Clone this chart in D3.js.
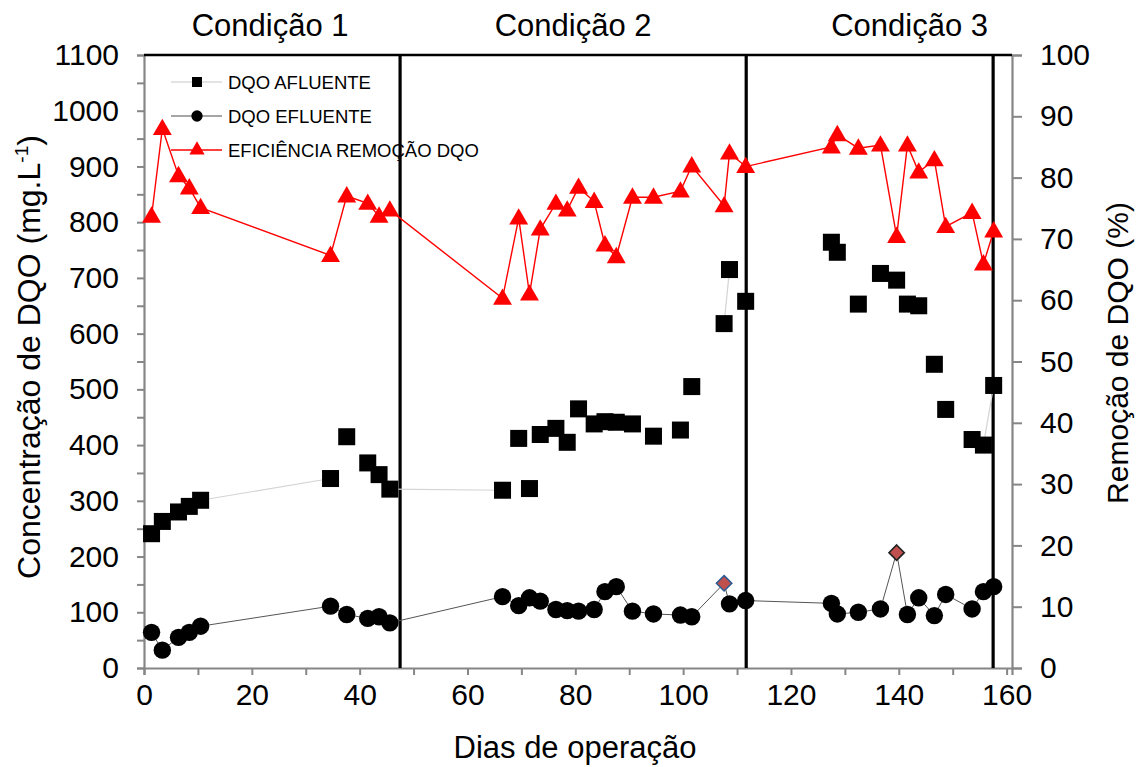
<!DOCTYPE html>
<html>
<head>
<meta charset="utf-8">
<script src="https://cdn.jsdelivr.net/npm/d3@7"></script>
<style>
  body { margin: 0; background: #fff; }
  svg text { font-family: "Liberation Sans", Arial, sans-serif; fill: #000; }
</style>
</head>
<body>
<svg id="chart" width="1139" height="767"></svg>
<script>
// dias de operação (eixo x)
const dias = [1.4, 3.4, 6.4, 8.4, 10.5, 34.6, 37.6, 41.5, 43.6, 45.6,
  66.5, 69.5, 71.5, 73.5, 76.4, 78.5, 80.6, 83.5, 85.5, 87.6, 90.6, 94.5, 99.5, 101.6, 107.6, 108.6, 111.6,
  127.5, 128.6, 132.5, 136.6, 139.6, 141.6, 143.7, 146.6, 148.7, 153.6, 155.7, 157.6];

// DQO afluente (mg/L)
const dqoAfluente = [241, 263, 280, 290, 301, 340, 415, 368, 347, 321,
  319, 412, 322, 419, 430, 405, 465, 438, 442, 441, 438, 416, 427, 505, 618, 715, 658,
  764, 746, 653, 708, 696, 653, 650, 545, 464, 410, 400, 507];

// DQO efluente (mg/L)
const dqoEfluente = [64, 32, 55, 64, 75, 111, 96, 89, 92, 81,
  128, 112, 126, 120, 105, 103, 102, 105, 137, 146, 102, 97, 95, 92, 152, 115, 121,
  116, 97, 100, 106, 207, 96, 126, 94, 132, 106, 137, 146];

// eficiência de remoção (%)
const eficiencia = [73.7, 88.0, 80.3, 78.3, 75.1, 67.3, 77.0, 75.8, 73.7, 74.7,
  60.3, 73.4, 61.0, 71.6, 75.8, 74.7, 78.4, 76.1, 69.0, 67.1, 76.8, 76.8, 77.8, 81.9, 75.4, 84.0, 81.8,
  85.0, 87.0, 84.8, 85.3, 70.4, 85.3, 80.9, 82.9, 72.0, 74.3, 65.9, 71.3];

// pontos do efluente destacados (losango)
const diasDestaque = [107.6, 139.6];

// trechos em que a linha do afluente aparece (dia inicial, dia final)
const trechosAfluente = [[1.4, 3.4], [3.4, 6.4], [6.4, 8.4], [8.4, 10.5], [10.5, 34.6],
  [45.6, 66.5], [107.6, 108.6], [155.7, 157.6]];

// mudanças de condição
const limitesCondicao = [47.5, 111.7, 157.5];
const condicoes = [
  { nome: "Condição 1", x: 23.4 },
  { nome: "Condição 2", x: 79.6 },
  { nome: "Condição 3", x: 142 },
];

const xTicks = d3.range(0, 161, 10);
const yLeftTicks = d3.range(0, 1101, 50);
const yRightTicks = d3.range(0, 101, 10);

const svg = d3.select("#chart");
const plotLeft = 144, plotRight = 1012, plotTop = 55, plotBottom = 668;

const x = d3.scaleLinear().domain([0, 161]).range([plotLeft, plotRight]);
const yL = d3.scaleLinear().domain([0, 1100]).range([plotBottom, plotTop]);
const yR = d3.scaleLinear().domain([0, 100]).range([plotBottom, plotTop]);

const axisGray = "#868686";

// axes
const gx = svg.append("g").attr("transform", `translate(0,${plotBottom})`)
  .call(d3.axisBottom(x).tickValues(xTicks).tickSize(7).tickPadding(9)
    .tickFormat((d) => (d % 20 === 0 ? d : "")));
const gyl = svg.append("g").attr("transform", `translate(${plotLeft},0)`)
  .call(d3.axisLeft(yL).tickValues(yLeftTicks).tickSize(7).tickPadding(18)
    .tickFormat((d) => (d % 100 === 0 ? d : "")));
const gyr = svg.append("g").attr("transform", `translate(${plotRight},0)`)
  .call(d3.axisRight(yR).tickValues(yRightTicks).tickSize(10).tickPadding(18));

[gx, gyl, gyr].forEach((g) => {
  g.select(".domain").attr("stroke", axisGray).attr("stroke-width", 2.2);
  g.selectAll(".tick line").attr("stroke", axisGray).attr("stroke-width", 2);
  g.selectAll(".tick text").attr("font-size", 30).attr("font-family", "Liberation Sans, Arial, sans-serif");
});

// top border
svg.append("line")
  .attr("x1", plotLeft).attr("x2", plotRight).attr("y1", plotTop).attr("y2", plotTop)
  .attr("stroke", "#000").attr("stroke-width", 2.5);

// condition lines
svg.selectAll(".cond-line").data(limitesCondicao).join("line")
  .attr("class", "cond-line")
  .attr("x1", (d) => x(d)).attr("x2", (d) => x(d))
  .attr("y1", plotTop).attr("y2", plotBottom)
  .attr("stroke", "#000").attr("stroke-width", 3.2);

svg.selectAll(".cond-title").data(condicoes).join("text")
  .attr("class", "cond-title")
  .attr("x", (d) => x(d.x)).attr("y", 36)
  .attr("text-anchor", "middle").attr("font-size", 31)
  .text((d) => d.nome);

// axis titles
svg.append("text")
  .attr("transform", "translate(40,357) rotate(-90)")
  .attr("text-anchor", "middle").attr("font-size", 32)
  .html('Concentração de DQO (mg.L<tspan dy="-12" font-size="19">-1</tspan><tspan dy="12">)</tspan>');

svg.append("text")
  .attr("transform", "translate(1128,353) rotate(-90)")
  .attr("text-anchor", "middle").attr("font-size", 30)
  .text("Remoção de DQO (%)");

svg.append("text")
  .attr("x", 575).attr("y", 758)
  .attr("text-anchor", "middle").attr("font-size", 31)
  .text("Dias de operação");

const pts = dias.map((d, i) => ({
  dia: d,
  afl: dqoAfluente[i],
  efl: dqoEfluente[i],
  ef: eficiencia[i],
  destaque: diasDestaque.includes(d),
}));
const porDia = new Map(pts.map((p) => [p.dia, p]));

// afluente connecting line (only the visible stretches)
svg.selectAll(".afl-link").data(trechosAfluente).join("line")
  .attr("class", "afl-link")
  .attr("x1", (d) => x(d[0])).attr("y1", (d) => yL(porDia.get(d[0]).afl))
  .attr("x2", (d) => x(d[1])).attr("y2", (d) => yL(porDia.get(d[1]).afl))
  .attr("stroke", "#d4d4d4").attr("stroke-width", 1.2);

svg.append("path").datum(pts)
  .attr("fill", "none").attr("stroke", "#555").attr("stroke-width", 1)
  .attr("d", d3.line().x((d) => x(d.dia)).y((d) => yL(d.efl)));

// afluente squares
const sq = 17;
svg.selectAll(".afl").data(pts).join("rect")
  .attr("class", "afl")
  .attr("x", (d) => x(d.dia) - sq / 2).attr("y", (d) => yL(d.afl) - sq / 2)
  .attr("width", sq).attr("height", sq).attr("fill", "#000");

// efluente circles / diamonds
svg.selectAll(".efl").data(pts.filter((d) => !d.destaque)).join("circle")
  .attr("class", "efl")
  .attr("cx", (d) => x(d.dia)).attr("cy", (d) => yL(d.efl))
  .attr("r", 8.7).attr("fill", "#000");

const diamond = d3.symbol().type(d3.symbolDiamond2).size(150);
svg.selectAll(".efl-d").data(pts.filter((d) => d.destaque)).join("path")
  .attr("class", "efl-d")
  .attr("transform", (d) => `translate(${x(d.dia)},${yL(d.efl)})`)
  .attr("d", diamond)
  .attr("fill", "#c0504d")
  .attr("stroke", (d, i) => (i === 0 ? "#2e5b93" : "#222"))
  .attr("stroke-width", 1.6);

// eficiência
svg.append("path").datum(pts)
  .attr("fill", "none").attr("stroke", "#ff0000").attr("stroke-width", 1.4)
  .attr("d", d3.line().x((d) => x(d.dia)).y((d) => yR(d.ef)));

const tri = d3.symbol().type(d3.symbolTriangle).size(155);
svg.selectAll(".ef").data(pts).join("path")
  .attr("class", "ef")
  .attr("transform", (d) => `translate(${x(d.dia)},${yR(d.ef) + 1})`)
  .attr("d", tri).attr("fill", "#ff0000");

// legend
const legend = [
  { nome: "DQO AFLUENTE", cor: "#e3e3e3", sym: d3.symbolSquare, fill: "#000", w: 2 },
  { nome: "DQO EFLUENTE", cor: "#a6a6a6", sym: d3.symbolCircle, fill: "#000", w: 2 },
  { nome: "EFICIÊNCIA REMOÇÃO DQO", cor: "#ff0000", sym: d3.symbolTriangle, fill: "#ff0000", w: 1.5 },
];
const lg = svg.append("g");
legend.forEach((l, i) => {
  const yy = 82 + i * 34;
  lg.append("line").attr("x1", 171).attr("x2", 222).attr("y1", yy).attr("y2", yy)
    .attr("stroke", l.cor).attr("stroke-width", l.w);
  lg.append("path").attr("transform", `translate(197,${yy})`)
    .attr("d", d3.symbol().type(l.sym).size(100)).attr("fill", l.fill);
  lg.append("text").attr("x", 228).attr("y", yy + 7)
    .attr("font-size", 18.5).text(l.nome);
});
</script>
</body>
</html>
